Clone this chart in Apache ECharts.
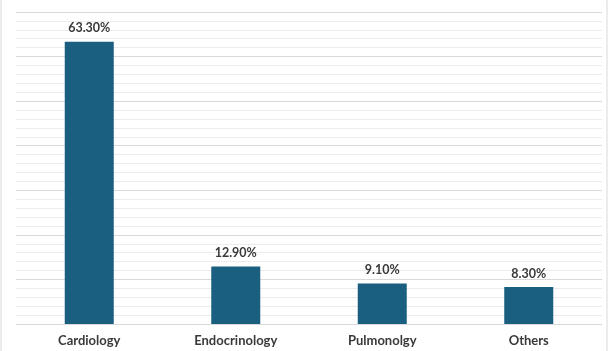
<!DOCTYPE html>
<html><head><meta charset="utf-8">
<script src="https://cdn.jsdelivr.net/npm/echarts@6/dist/echarts.min.js"></script>
<style>html,body{margin:0;padding:0;background:#fff}#c{width:614px;height:351px}</style>
</head><body><div id="c"></div>
<script>
const categories = ["Cardiology", "Endocrinology", "Pulmonolgy", "Others"];
const values = [63.3, 12.9, 9.1, 8.3];
const labels = ["63.30%", "12.90%", "9.10%", "8.30%"];

const chart = echarts.init(document.getElementById('c'), null, {renderer: 'canvas'});
chart.setOption({
  animation: false,
  graphic: [{type: 'rect', shape: {x: 1, y: -10, width: 606, height: 380}, style: {fill: 'none', stroke: '#d9d9d9', lineWidth: 1}, silent: true, z: -10}],
  grid: {left: 16, right: 12, top: 12, bottom: 27},
  xAxis: {
    type: 'category', data: categories,
    axisLine: {lineStyle: {color: '#d9d9d9'}}, axisTick: {show: false},
    axisLabel: {color: '#3a3a3a', fontFamily: 'Lato', fontWeight: 'bold', fontSize: 13, margin: 10}
  },
  yAxis: {
    type: 'value', min: 0, max: 70, interval: 10,
    axisLabel: {show: false}, axisLine: {show: false}, axisTick: {show: false},
    splitLine: {lineStyle: {color: '#d9d9d9'}},
    minorTick: {show: false, splitNumber: 5},
    minorSplitLine: {show: true, lineStyle: {color: '#ececec'}}
  },
  series: [{
    type: 'bar', data: values, barWidth: 49,
    itemStyle: {color: '#1a5e80'},
    label: {show: true, position: 'top', distance: 7, color: '#3a3a3a', fontFamily: 'Lato', fontWeight: 'bold', fontSize: 12.5,
      formatter: p => labels[p.dataIndex]}
  }]
});
</script></body></html>
